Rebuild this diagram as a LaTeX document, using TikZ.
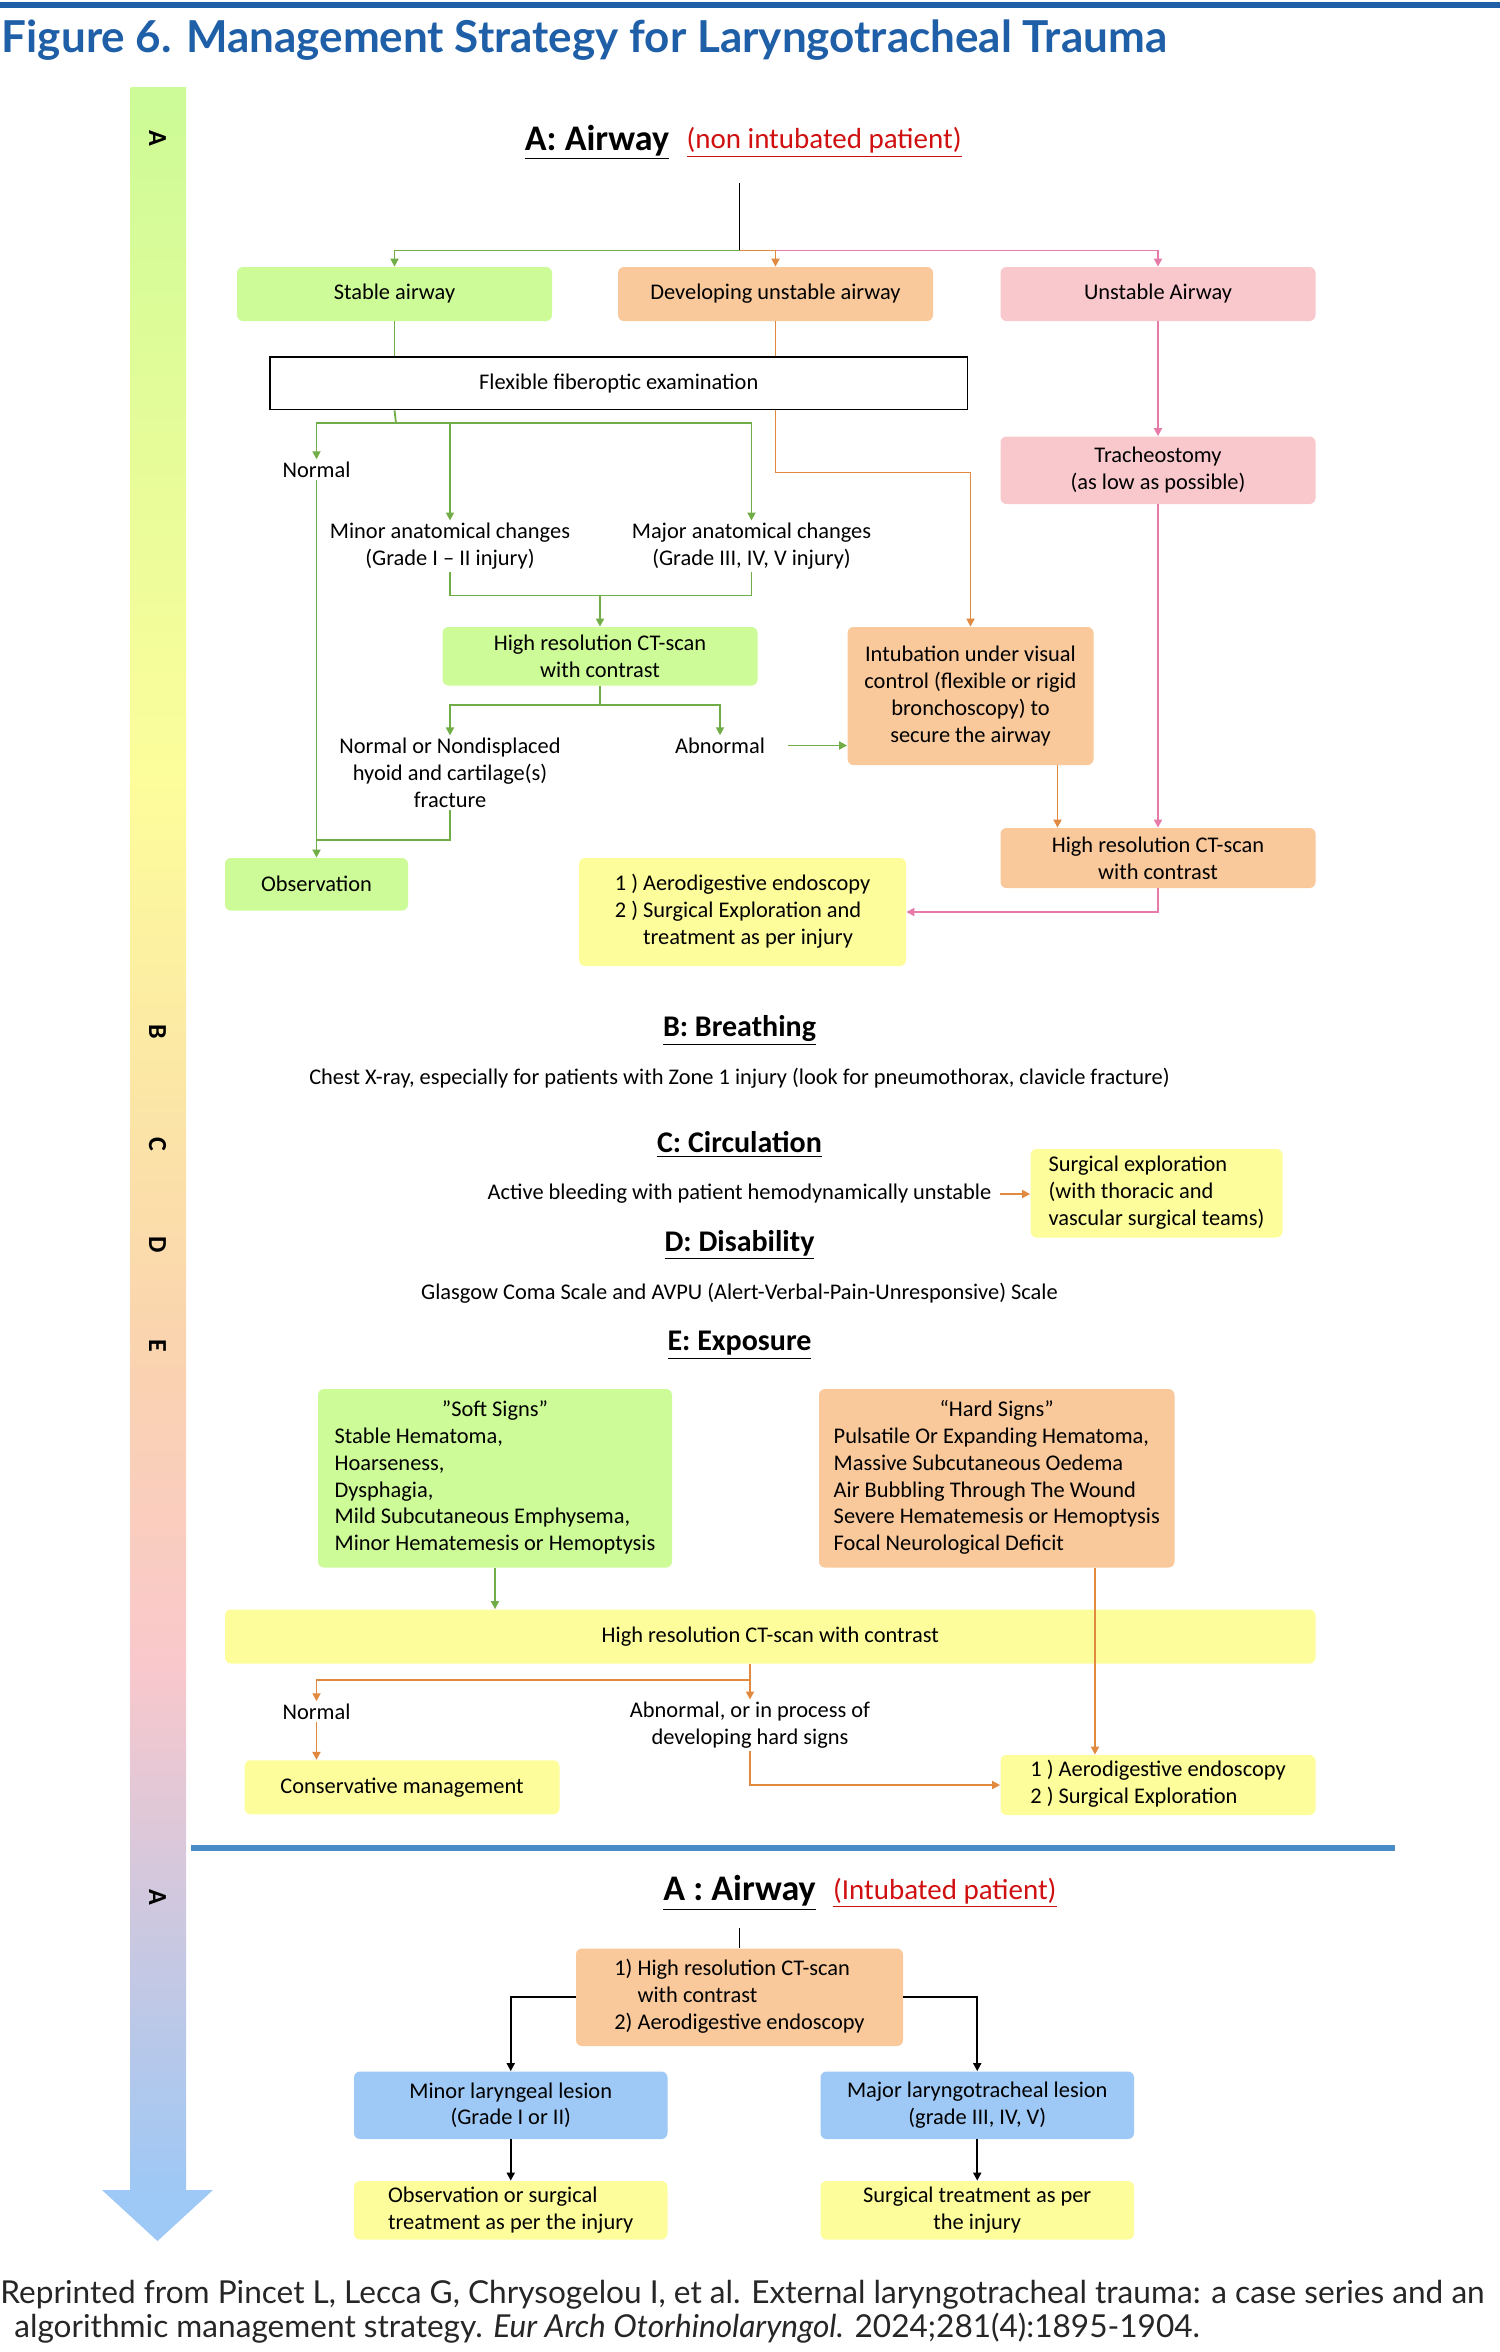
\documentclass[tikz,border=0pt]{standalone}
\usepackage{fontspec}
\setmainfont{Carlito}
\newfontfamily\titlefont{Lato}
\usetikzlibrary{arrows.meta,positioning}

\definecolor{figblue}{HTML}{1F5FA8}
\definecolor{sepblue}{HTML}{4A8CC8}
\definecolor{gfill}{HTML}{CCFB97}
\definecolor{ofill}{HTML}{F9C89B}
\definecolor{pfill}{HTML}{F9C8CC}
\definecolor{yfill}{HTML}{FDFD9B}
\definecolor{bfill}{HTML}{9EC8F5}
\definecolor{gline}{HTML}{70AD47}
\definecolor{oline}{HTML}{E0893F}
\definecolor{pline}{HTML}{E67AA8}
\definecolor{headred}{HTML}{D01010}

\tikzset{
  sz/.style 2 args={minimum width=#1*0.75pt, minimum height=#2*0.75pt},
  box/.style={rounded corners=3pt, inner sep=1pt, align=center, font=\fontsize{11.2}{13.4}\selectfont},
  gbox/.style={box, fill=gfill},
  obox/.style={box, fill=ofill},
  pbox/.style={box, fill=pfill},
  ybox/.style={box, fill=yfill},
  bbox/.style={box, fill=bfill},
  lbl/.style={align=center, inner sep=1pt, font=\fontsize{11.2}{13.4}\selectfont},
  head/.style={font=\fontsize{15}{18}\selectfont\bfseries},
  bighead/.style={font=\fontsize{18}{21}\selectfont\bfseries},
  redsub/.style={text=headred, inner sep=1pt, font=\fontsize{14.5}{17}\selectfont},
  tip/.style={-{Triangle[length=4pt,width=4pt]}},
  gln/.style={gline, line width=0.9pt},
  oln/.style={oline, line width=0.9pt},
  pln/.style={pline, line width=0.9pt},
  kln/.style={black, line width=0.9pt},
  side/.style={rotate=-90, font=\fontsize{13}{13}\selectfont\bfseries}
}

\begin{document}
\begin{tikzpicture}[x=0.75pt, y=-0.75pt]
        \useasboundingbox (0,0) rectangle (1000,1568);
        % Title
        \fill[figblue] (0,1) rectangle (1000,5);
        \node[anchor=west, inner sep=0pt, text=figblue, font=\titlefont\fontsize{22}{26}\selectfont\bfseries] (title) at (1,27) {Figure 6. Management Strategy for Laryngotracheal Trauma};
        % Side arrow
        \shade[top color=gfill, bottom color=yfill] (87,58) rectangle (124,520);
        \shade[top color=yfill, bottom color=ofill!80] (87,520) rectangle (124,900);
        \shade[top color=ofill!80, bottom color=pfill] (87,900) rectangle (124,1110);
        \shade[top color=pfill, bottom color=bfill] (87,1110) rectangle (124,1461);
        \fill[bfill] (68,1460) -- (142,1460) -- (105,1494) -- cycle;
        \node[side] (sA) at (105,92) {A};
        \node[side] (sB) at (105,688) {B};
        \node[side] (sC) at (105,763) {C};
        \node[side] (sD) at (105,830) {D};
        \node[side] (sE) at (105,897) {E};
        \node[side] (sA2) at (105,1265) {A};

        % A: Airway (non intubated)
        \node[bighead] (hA) at (398,95) {\underline{A: Airway}};
        \node[right=4pt of hA, redsub] (hAsub) {\underline{(non intubated patient)}};
        \coordinate (top) at (493,122);
        \coordinate (split) at (493,167);

        \node[gbox, sz={210}{36}] (stable) at (263,196) {Stable airway};
        \node[obox, sz={210}{36}] (devel) at (517,196) {Developing unstable airway};
        \node[pbox, sz={210}{36}] (unstable) at (772,196) {Unstable Airway};
        \node[draw, thick, sz={465}{35}, lbl] (flex) at (412.5,255.5) {Flexible fiberoptic examination};
        \node[lbl] (normal) at (211,313) {Normal};
        \node[lbl] (minor) at (300,364) {Minor anatomical changes\\(Grade I -- II injury)};
        \node[lbl] (major) at (501,364) {Major anatomical changes\\(Grade III, IV, V injury)};
        \node[gbox, sz={210}{39}] (ct1) at (400,437.5) {High resolution CT-scan\\with contrast};
        \node[lbl] (nondisp) at (300,515) {Normal or Nondisplaced\\hyoid and cartilage(s)\\fracture};
        \node[lbl] (abn) at (480,497) {Abnormal};
        \node[obox, sz={164}{92}] (intub) at (647,464) {Intubation under visual\\control (flexible or rigid\\bronchoscopy) to\\secure the airway};
        \node[pbox, sz={210}{45}] (trach) at (772,313.5) {Tracheostomy\\(as low as possible)};
        \node[obox, sz={210}{40}] (ct2) at (772,572) {High resolution CT-scan\\with contrast};
        \node[gbox, sz={122}{35}] (obs) at (211,589.5) {Observation};
        \node[ybox, sz={218}{72}] (aero1) at (495,608) {\begin{tabular}{@{}l@{}}1 ) Aerodigestive endoscopy\\2 ) Surgical Exploration and\\\phantom{2 ) }treatment as per injury\end{tabular}};

        \draw[kln] (top) -- (split);
        \draw[gln, tip] (split) -| (stable.north);
        \draw[oln, tip] (split) -| (devel.north);
        \draw[pln, tip] (devel.north |- split) -| (unstable.north);
        \draw[gln] (stable.south) -- (stable.south |- flex.north);
        \draw[oln] (devel.south) -- (devel.south |- flex.north);
        \draw[oln, tip] (devel.south |- flex.south) |- (intub.north |- 0,315) -- (intub.north);
        \draw[gln] (stable.south |- flex.south) -- (264,282);
        \draw[gln, tip] (264,282) -| (normal.north);
        \draw[gln, tip] (264,282) -| (major.north);
        \draw[gln, tip] (minor.north |- 0,282) -- (minor.north);
        \draw[gln, tip] (normal.south) -- (obs.north);
        \draw[gln] (minor.south) |- (400,397) -| (major.south);
        \draw[gln, tip] (400,397) -- (ct1.north);
        \draw[gln] (ct1.south) -- (400,470);
        \draw[gln, tip] (400,470) -| (nondisp.north);
        \draw[gln, tip] (400,470) -| (abn.north);
        \draw[gln, tip] (abn.east) ++(14,0) -- (intub.west |- abn);
        \draw[gln] (nondisp.south) |- (obs.north |- 0,560);
        \draw[pln, tip] (unstable.south) -- (trach.north);
        \draw[pln, tip] (trach.south) -- (ct2.north);
        \draw[oln, tip] (intub.south -| 705,0) -- (ct2.north -| 705,0);
        \draw[pln, tip] (ct2.south) |- (aero1.east);

        % B, C, D, E
        \node[head] (hB) at (493,687) {\underline{B: Breathing}};
        \node[lbl] (chest) at (493,719) {Chest X-ray, especially for patients with Zone 1 injury (look for pneumothorax, clavicle fracture)};
        \node[head] (hC) at (493,763) {\underline{C: Circulation}};
        \node[lbl] (bleed) at (493,796) {Active bleeding with patient hemodynamically unstable};
        \node[ybox, sz={168}{59}] (surg) at (771,795.5) {\begin{tabular}{@{}l@{}}Surgical exploration\\(with thoracic and\\vascular surgical teams)\end{tabular}};
        \draw[oln, tip] (bleed.east) ++(4,0) -- (surg.west |- bleed);
        \node[head] (hD) at (493,830) {\underline{D: Disability}};
        \node[lbl] (gcs) at (493,862) {Glasgow Coma Scale and AVPU (Alert-Verbal-Pain-Unresponsive) Scale};
        \node[head] (hE) at (493,897) {\underline{E: Exposure}};

        \node[gbox, sz={236}{119}] (soft) at (330,985.5) {\begin{tabular}{@{}l@{}}\multicolumn{1}{@{}c@{}}{"Soft Signs"}\\Stable Hematoma,\\Hoarseness,\\Dysphagia,\\Mild Subcutaneous Emphysema,\\Minor Hematemesis or Hemoptysis\end{tabular}};
        \node[obox, sz={237}{119}] (hard) at (664.5,985.5) {\begin{tabular}{@{}l@{}}\multicolumn{1}{@{}c@{}}{“Hard Signs”}\\Pulsatile Or Expanding Hematoma,\\Massive Subcutaneous Oedema\\Air Bubbling Through The Wound\\Severe Hematemesis or Hemoptysis\\Focal Neurological Deficit\end{tabular}};
        \node[ybox, sz={727}{36}] (ct3) at (513.5,1091) {High resolution CT-scan with contrast};
        \node[lbl] (normal2) at (211,1141) {Normal};
        \node[lbl] (abn2) at (500,1150) {Abnormal, or in process of\\developing hard signs};
        \node[ybox, sz={210}{36}] (cons) at (268,1191.5) {Conservative management};
        \node[ybox, sz={210}{40}] (aero2) at (772,1190) {\begin{tabular}{@{}l@{}}1 ) Aerodigestive endoscopy\\2 ) Surgical Exploration\end{tabular}};

        \draw[gln, tip] (soft.south) -- (ct3.north -| soft.south);
        \draw[oln] (ct3.south -| abn2.north) -- (500,1120);
        \draw[oln, tip] (500,1120) -| (normal2.north);
        \draw[oln, tip] (500,1120) -- (abn2.north);
        \draw[oln, tip] (normal2.south) -- (normal2.south |- cons.north);
        \draw[oln, tip] (abn2.south) |- (aero2.west |- 0,1190);
        \draw[oln, tip] (hard.south -| 730,0) -- (aero2.north -| 730,0);

        % Intubated patient
        \draw[sepblue, line width=3pt] (127,1232) -- (930,1232);
        \node[bighead] (hA2) at (493,1262) {\underline{A : Airway}};
        \node[right=4pt of hA2, redsub] (hA2sub) {\underline{(Intubated patient)}};
        \node[obox, sz={218}{65}] (ctaero) at (493,1331.5) {\begin{tabular}{@{}l@{}}1) High resolution CT-scan\\\phantom{1) }with contrast\\2) Aerodigestive endoscopy\end{tabular}};
        \node[bbox, sz={209}{45}] (minorl) at (340.5,1403.5) {Minor laryngeal lesion\\(Grade I or II)};
        \node[bbox, sz={209}{45}] (majorl) at (651.5,1403.5) {Major laryngotracheal lesion\\(grade III, IV, V)};
        \node[ybox, sz={209}{39}] (obs2) at (340.5,1473.5) {\begin{tabular}{@{}l@{}}Observation or surgical\\treatment as per the injury\end{tabular}};
        \node[ybox, sz={209}{39}] (surg2) at (651.5,1473.5) {Surgical treatment as per\\the injury};
        \draw[kln] (ctaero.north |- 0,1285) -- (ctaero.north);
        \draw[kln, tip] (ctaero.west) -| (minorl.north);
        \draw[kln, tip] (ctaero.east) -| (majorl.north);
        \draw[kln, tip] (minorl.south) -- (obs2.north);
        \draw[kln, tip] (majorl.south) -- (surg2.north);

        % Source
        \node[anchor=north west, align=left, inner sep=0pt, font=\titlefont\fontsize{15.8}{17}\selectfont, text=black!85] (src) at (0,1520) {Reprinted from Pincet L, Lecca G, Chrysogelou I, et al. External laryngotracheal trauma: a case series and an\\\hspace*{7pt}algorithmic management strategy. \emph{Eur Arch Otorhinolaryngol.} 2024;281(4):1895-1904.};
\end{tikzpicture}
\end{document}
